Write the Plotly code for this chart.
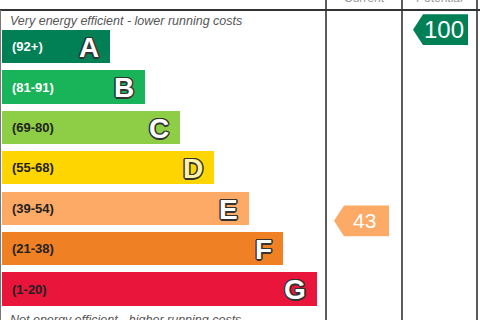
import plotly.graph_objects as go

# ---- data ----
bands = ["A", "B", "C", "D", "E", "F", "G"]
band_ranges = ["(92+)", "(81-91)", "(69-80)", "(55-68)", "(39-54)", "(21-38)", "(1-20)"]
band_low = [92, 81, 69, 55, 39, 21, 1]
band_high = [100, 91, 80, 68, 54, 38, 20]
bar_extent = [108, 143, 178, 212, 247, 281, 315]
band_colors = ["#008054", "#19b459", "#8dce46", "#ffd500", "#fcaa65", "#ef8023", "#e9153b"]
range_text_colors = ["#ffffff", "#ffffff", "#222222", "#222222", "#222222", "#222222", "#222222"]
letter_fill = ["#ffffff", "#ffffff", "#ffffff", "#fff3a8", "#ffffff", "#ffffff", "#ffffff"]

column_titles = ["Current", "Potential"]
column_edges = [326, 402, 477]
ratings = [43, 100]

top_text = "Very energy efficient - lower running costs"
bottom_text = "Not energy efficient - higher running costs"

W, H = 480, 320
pitch = 40.4
center0 = 46.6
bar_base = 2


def band_of(score):
    for i, (lo, hi) in enumerate(zip(band_low, band_high)):
        if lo <= score <= hi:
            return i
    return len(bands) - 1


def score_y(score):
    i = band_of(score)
    frac = (band_high[i] - score) / (band_high[i] - band_low[i])
    return i + frac - 0.42


fig = go.Figure()

fig.add_trace(go.Bar(
    y=list(range(len(bands))), x=bar_extent, base=bar_base, orientation="h",
    marker=dict(color=band_colors, line=dict(width=0)), width=0.82,
    hoverinfo="skip", showlegend=False,
))

annotations = []
outline = ("1px 1px 0 #333, -1px -1px 0 #333, 1px -1px 0 #333, -1px 1px 0 #333, "
           "1.5px 0 0 #333, -1.5px 0 0 #333, 0 1.5px 0 #333, 0 -1.5px 0 #333")
for i, b in enumerate(bands):
    annotations.append(dict(
        x=10, y=i, xref="x", yref="y", text=band_ranges[i], showarrow=False,
        xanchor="left", yanchor="middle",
        font=dict(family="Liberation Sans, Arial", size=13, color=range_text_colors[i], weight="bold"),
    ))
    annotations.append(dict(
        x=bar_base + bar_extent[i] - 9, y=i + 0.02, xref="x", yref="y", text=b, showarrow=False,
        xanchor="right", yanchor="middle",
        font=dict(family="Liberation Sans, Arial", size=28, color=letter_fill[i], weight="bold", shadow=outline),
    ))

# rating arrows
arrow_h = 0.38
for k, score in enumerate(ratings):
    col_l = column_edges[k]
    tip = col_l + 8 + (3 if k == 1 else 0)
    notch = tip + 10
    end = tip + 55
    yc = score_y(score)
    color = band_colors[band_of(score)]
    fig.add_trace(go.Scatter(
        x=[tip, notch, end, end, notch, tip],
        y=[yc, yc - arrow_h, yc - arrow_h, yc + arrow_h, yc + arrow_h, yc],
        mode="lines", fill="toself", fillcolor=color, line=dict(width=0, color=color),
        hoverinfo="skip", showlegend=False,
    ))
    annotations.append(dict(
        x=(notch + end) / 2 - 2, y=yc, xref="x", yref="y", text=str(score), showarrow=False,
        xanchor="center", yanchor="middle",
        font=dict(family="Liberation Sans, Arial", size=24 if score >= 100 else 21, color="#ffffff"),
    ))

# column titles (mostly clipped at top)
for k, t in enumerate(column_titles):
    annotations.append(dict(
        x=(column_edges[k] + column_edges[k + 1]) / 2, y=1 - 7 / H, xref="x", yref="paper",
        text=t, showarrow=False, xanchor="center", yanchor="bottom",
        font=dict(family="Liberation Sans, Arial", size=12, color="#999999"),
    ))

annotations.append(dict(
    x=8, y=1 - 12 / H, xref="x", yref="paper", text=top_text, showarrow=False,
    xanchor="left", yanchor="top",
    font=dict(family="Liberation Sans, Arial", size=12.5, color="#555555", style="italic"),
))
annotations.append(dict(
    x=8, y=1 - 311 / H, xref="x", yref="paper", text=bottom_text, showarrow=False,
    xanchor="left", yanchor="top",
    font=dict(family="Liberation Sans, Arial", size=12.5, color="#555555", style="italic"),
))

shapes = [
    dict(type="line", xref="x", yref="paper", x0=0, x1=W, y0=1 - 10 / H, y1=1 - 10 / H,
         line=dict(color="#333333", width=2)),
    dict(type="line", xref="x", yref="paper", x0=0.5, x1=0.5, y0=0, y1=1 - 10 / H,
         line=dict(color="#777777", width=1)),
]
for xe in column_edges:
    shapes.append(dict(type="line", xref="x", yref="paper", x0=xe, x1=xe, y0=0, y1=1,
                       line=dict(color="#333333", width=1.6)))

fig.update_layout(
    width=W, height=H, margin=dict(l=0, r=0, t=0, b=0),
    paper_bgcolor="white", plot_bgcolor="white",
    xaxis=dict(range=[0, W], visible=False, fixedrange=True),
    yaxis=dict(range=[(H - center0) / pitch, -center0 / pitch], visible=False, fixedrange=True),
    annotations=annotations, shapes=shapes, bargap=0,
)

fig.write_html("out.html", config={"displayModeBar": False})
